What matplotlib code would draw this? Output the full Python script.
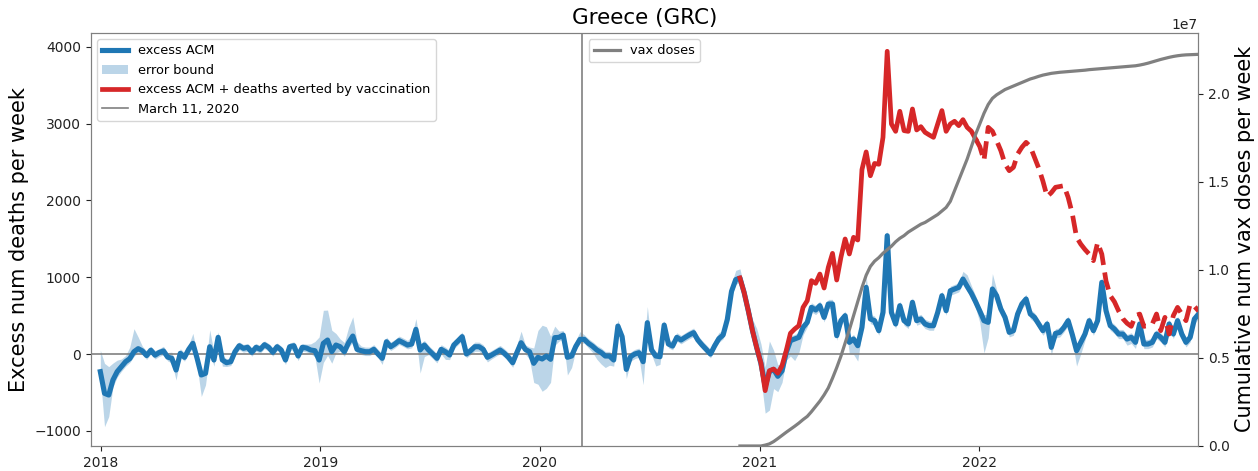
import matplotlib
matplotlib.use('Agg')
import matplotlib.pyplot as plt
import matplotlib.dates as mdates
import numpy as np
import pandas as pd

# weekly excess all-cause mortality, first week ending 2017-12-31
excess = [
    -230, -512, -534, -338, -230, -165, -100, -60, 30, 70,
    40, -20, 50, -15, 20, 40, -40, -56, -208, 9,
    -43, 60, 139, -56, -273, -252, 95, -78, 217, -78,
    -113, -100, 30, 108, 74, 87, 22, 87, 61, 121,
    87, 22, 95, 52, -78, 95, 108, -26, 87, 78,
    52, 43, -78, 139, 182, 30, 117, 95, 30, 147,
    234, 61, 43, 30, 30, 61, 0, -56, 160, 95,
    130, 174, 147, 117, 130, 321, 52, 117, 52, 0,
    -56, 61, 30, -13, 117, 170, 226, 0, 43, 95,
    95, 60, -43, -13, 20, 52, 10, -43, -113, 20,
    147, 60, 30, -121, -43, -65, -26, -69, 213, 217,
    247, -43, -26, 100, 191, 191, 139, 100, 52, 20,
    -26, -26, -78, 364, 226, -200, -35, 0, 17, -100,
    408, 52, -26, -35, 377, 130, 104, 217, 182, 217,
    250, 278, 182, 117, 60, 0, 108, 200, 247, 450,
    815, 968, 989, 800, 560, 300, 80, -120, -420, -230,
    -200, -290, -220, 20, 174, 195, 217, 347, 412, 607,
    573, 629, 477, 651, 651, 239, 434, 499, 152, 195,
    108, 347, 868, 456, 434, 304, 542, 1540, 542, 391,
    629, 434, 391, 673, 434, 456, 391, 369, 369, 542,
    759, 564, 824, 846, 868, 976, 880, 790, 680, 560,
    434, 412, 846, 759, 586, 477, 282, 304, 521, 651,
    716, 521, 477, 391, 304, 391, 87, 269, 282, 347,
    434, 250, 43, 152, 260, 434, 304, 434, 933, 564,
    369, 325, 260, 260, 195, 217, 152, 391, 130, 130,
    152, 260, 217, 152, 391, 260, 434, 260, 152, 217,
    456, 521,
]

# error bound: distance above / below the excess curve
err_hi = [
    280, 390, 370, 220, 150, 100, 80, 150, 300, 150,
    60, 60, 50, 60, 50, 60, 60, 80, 60, 60,
    60, 60, 130, 60, 60, 80, 220, 100, 70, 60,
    50, 50, 50, 50, 50, 50, 60, 50, 50, 50,
    50, 60, 50, 50, 70, 50, 50, 60, 50, 50,
    80, 120, 300, 430, 390, 280, 150, 100, 120, 200,
    250, 100, 60, 60, 60, 60, 60, 60, 60, 60,
    60, 60, 60, 60, 100, 140, 80, 60, 60, 60,
    60, 60, 60, 60, 60, 60, 60, 60, 60, 60,
    60, 60, 60, 60, 60, 60, 60, 60, 60, 100,
    150, 60, 60, 200, 350, 440, 380, 300, 150, 80,
    60, 60, 60, 80, 100, 60, 60, 60, 60, 60,
    60, 60, 60, 80, 60, 60, 60, 60, 60, 80,
    210, 60, 60, 60, 60, 60, 60, 60, 60, 60,
    60, 60, 60, 60, 60, 60, 80, 80, 60, 80,
    100, 120, 120, 80, 80, 150, 250, 250, 250, 400,
    250, 150, 100, 60, 60, 60, 60, 60, 60, 60,
    60, 60, 60, 60, 60, 60, 60, 60, 60, 60,
    60, 60, 150, 60, 60, 60, 60, 80, 60, 60,
    60, 60, 60, 60, 60, 60, 60, 60, 60, 60,
    60, 60, 60, 60, 60, 100, 150, 100, 80, 60,
    80, 100, 200, 80, 60, 60, 60, 60, 60, 60,
    60, 60, 60, 60, 60, 60, 80, 60, 60, 60,
    60, 60, 80, 80, 60, 60, 60, 60, 70, 60,
    60, 60, 60, 60, 60, 60, 60, 60, 60, 60,
    60, 60, 60, 60, 60, 60, 60, 60, 60, 60,
    60, 60,
]
err_lo = [
    70, 434, 280, 90, 70, 60, 60, 50, 60, 50,
    50, 50, 50, 50, 50, 50, 50, 60, 130, 50,
    50, 50, 60, 100, 280, 150, 60, 80, 60, 80,
    50, 50, 50, 50, 50, 50, 50, 50, 50, 50,
    50, 50, 50, 50, 60, 50, 50, 60, 50, 50,
    50, 80, 300, 250, 200, 150, 100, 60, 60, 60,
    80, 60, 50, 50, 50, 50, 50, 80, 50, 50,
    50, 50, 50, 50, 50, 80, 300, 150, 60, 60,
    60, 60, 100, 60, 50, 50, 50, 50, 50, 60,
    60, 80, 60, 50, 50, 50, 50, 60, 60, 50,
    50, 60, 100, 250, 350, 420, 420, 300, 100, 50,
    50, 230, 150, 50, 50, 50, 60, 80, 120, 150,
    150, 120, 80, 50, 50, 120, 60, 60, 60, 300,
    60, 60, 130, 100, 50, 50, 50, 50, 50, 50,
    50, 50, 50, 50, 50, 50, 50, 50, 50, 50,
    60, 60, 60, 60, 80, 100, 150, 200, 350, 500,
    250, 200, 150, 100, 200, 280, 200, 100, 60, 60,
    60, 60, 60, 60, 60, 60, 60, 60, 150, 200,
    200, 60, 60, 60, 60, 60, 60, 60, 60, 60,
    60, 60, 60, 60, 60, 60, 60, 60, 60, 60,
    60, 60, 60, 60, 60, 60, 60, 60, 80, 150,
    420, 200, 60, 60, 60, 60, 60, 60, 60, 60,
    60, 60, 60, 60, 60, 80, 100, 60, 60, 60,
    60, 80, 200, 150, 80, 60, 60, 60, 60, 60,
    60, 60, 60, 60, 80, 80, 80, 60, 60, 60,
    60, 60, 60, 60, 60, 60, 60, 60, 60, 60,
    60, 60,
]

# excess + deaths averted by vaccination, first week ending 2020-11-29
with_averted = [
    989, 800, 560, 300, 80, -120, -477, -217, -195, -250,
    -152, 43, 270, 325, 369, 607, 694, 955, 920, 1041,
    859, 1128, 1310, 963, 1258, 1497, 1302, 1519, 1484, 2400,
    2630, 2320, 2480, 2470, 2820, 3940, 2994, 2898, 3159, 2907,
    2898, 3189, 2916, 2959, 2885, 2851, 2820, 2994, 3168, 2898,
    2994, 3029, 2972, 3050, 2950, 2900, 2800, 2700, 2520, 2950,
    2900, 2777, 2647, 2473, 2386, 2430, 2603, 2690, 2755, 2700,
    2560, 2420, 2250, 2050, 2100, 2170, 2180, 2191, 2039, 1822,
    1520, 1430, 1360, 1300, 1215, 1450, 1300, 950, 760, 680,
    560, 460, 400, 360, 500, 520, 360, 370, 391, 521,
    304, 477, 260, 500, 607, 521, 434, 651, 620, 560,
]

# cumulative vaccine doses (millions), same weeks as above
vax_millions = [
    0, 0, 0, 0, 0, 0, 0.05, 0.12, 0.25, 0.42,
    0.6, 0.78, 0.95, 1.12, 1.3, 1.5, 1.68, 1.95, 2.25, 2.55,
    2.9, 3.3, 3.85, 4.45, 5.1, 5.85, 6.6, 7.4, 8.2, 9.0,
    9.7, 10.2, 10.5, 10.7, 10.95, 11.15, 11.35, 11.6, 11.8, 11.95,
    12.15, 12.3, 12.45, 12.6, 12.7, 12.85, 13.0, 13.15, 13.35, 13.55,
    13.9, 14.5, 15.1, 15.7, 16.3, 17.0, 17.7, 18.3, 18.9, 19.4,
    19.75, 19.95, 20.1, 20.25, 20.35, 20.45, 20.55, 20.65, 20.75, 20.85,
    20.92, 21.0, 21.07, 21.12, 21.17, 21.2, 21.23, 21.25, 21.27, 21.29,
    21.31, 21.33, 21.35, 21.38, 21.4, 21.42, 21.44, 21.46, 21.48, 21.5,
    21.52, 21.54, 21.56, 21.58, 21.6, 21.64, 21.69, 21.75, 21.82, 21.89,
    21.96, 22.02, 22.08, 22.13, 22.17, 22.2, 22.22, 22.23, 22.24, 22.25,
]

weeks = pd.date_range('2017-12-31', periods=len(excess), freq='7D')
vax_weeks = pd.date_range('2020-11-29', periods=len(with_averted), freq='7D')
projection_start = pd.Timestamp('2021-12-26')

excess = np.array(excess)
lower = excess - np.array(err_lo)
upper = excess + np.array(err_hi)
with_averted = np.array(with_averted)
vax = np.array(vax_millions) * 1e6

plt.figure(1, figsize=(12.58, 4.71), dpi=100)
ax1 = plt.subplot(111)
plt.subplots_adjust(left=0.0721, right=0.9523, top=0.9306, bottom=0.0531)

ax1.plot(weeks, excess, c='tab:blue', linewidth=3.7, label='excess ACM', zorder=3)
ax1.fill_between(weeks, lower, upper, color='tab:blue', alpha=0.3, linewidth=0,
                 label='error bound')
solid = vax_weeks <= projection_start
dashed = vax_weeks >= projection_start
ax1.plot(vax_weeks[solid], with_averted[solid], c='tab:red', linewidth=3.4,
         label='excess ACM + deaths averted by vaccination', zorder=4)
ax1.plot(vax_weeks[dashed], with_averted[dashed], c='tab:red', linewidth=3.4,
         linestyle='--', zorder=4)
ax1.axvline(pd.Timestamp('2020-03-11'), c='gray', linewidth=1.2, label='March 11, 2020')
ax1.axhline(0, c='gray', linewidth=1.2)

ax1.set_xlim(pd.Timestamp('2017-12-15'), pd.Timestamp('2022-12-31'))
ax1.set_ylim(-1197, 4182)
ax1.xaxis.set_major_locator(mdates.YearLocator())
ax1.xaxis.set_major_formatter(mdates.DateFormatter('%Y'))
ax1.set_ylabel('Excess num deaths per week', fontsize=15)
ax1.set_title('Greece (GRC)', fontsize=15.5)
ax1.tick_params(labelsize=10, colors='#222222')
ax1.legend(loc='upper left', fontsize=9.3)

ax2 = ax1.twinx()
ax2.plot(vax_weeks, vax, c='gray', linewidth=2.3, label='vax doses')
ax2.set_ylim(0, 2.348e7)
ax2.set_ylabel('Cumulative num vax doses per week', fontsize=15)
ax2.tick_params(labelsize=10, colors='#222222')
ax2.yaxis.get_offset_text().set_fontsize(10)
ax2.legend(loc='upper center', fontsize=9.3)

for ax in (ax1, ax2):
    for s in ax.spines.values():
        s.set_color('gray')

plt.savefig('out.png', dpi=100)
